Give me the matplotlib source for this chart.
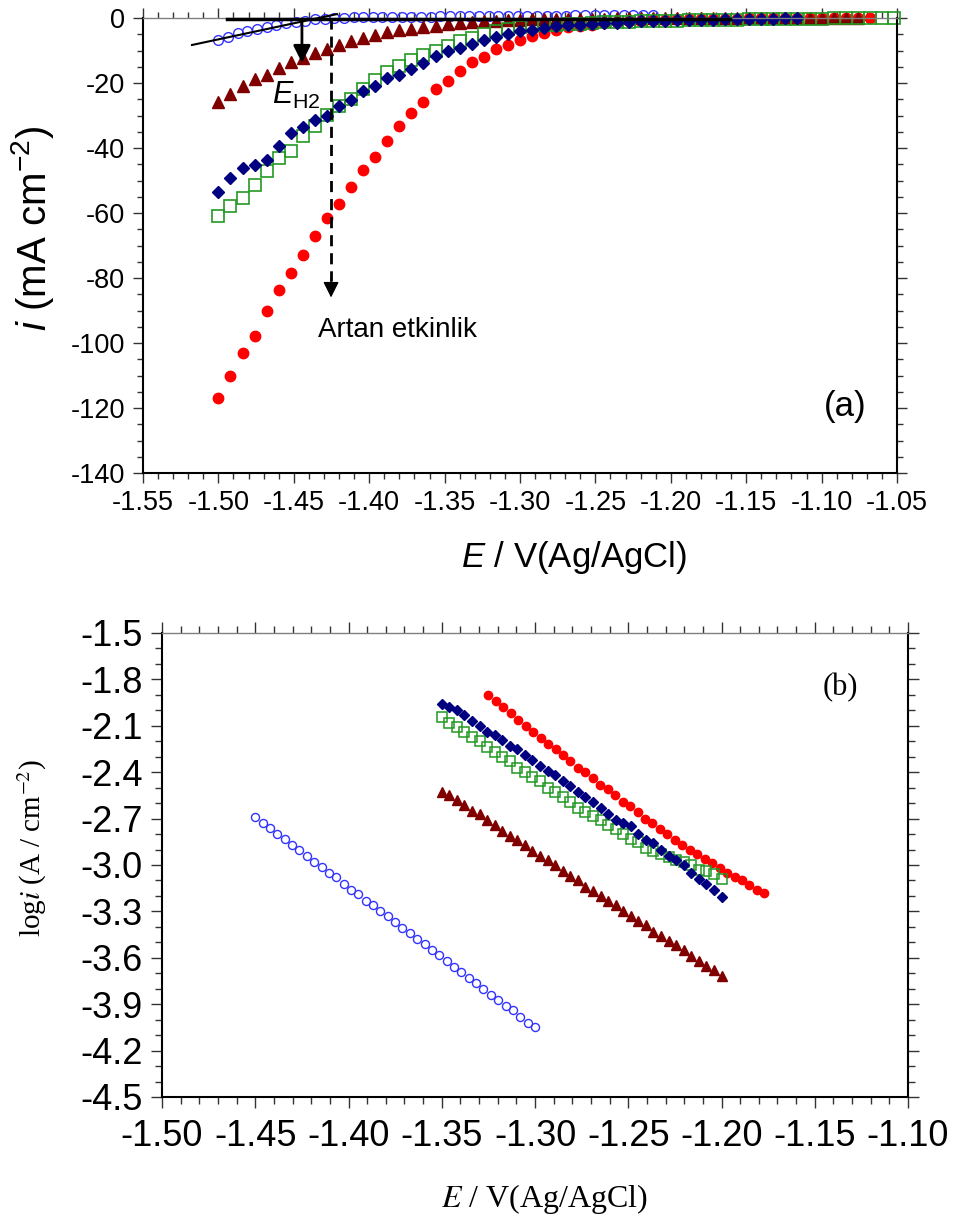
import numpy as np
import matplotlib
matplotlib.use("Agg")
import matplotlib.pyplot as plt
from matplotlib.ticker import MultipleLocator, FormatStrFormatter

plt.rcParams['font.family'] = ['Liberation Sans', 'DejaVu Sans']
plt.rcParams['axes.unicode_minus'] = False
plt.rcParams['mathtext.fontset'] = 'custom'
plt.rcParams['mathtext.rm'] = 'Liberation Sans'
plt.rcParams['mathtext.it'] = 'Liberation Sans:italic'

# ---------------- data, panel (a): i (mA cm-2) vs E ----------------
E0_a = -1.50          # first potential of every sweep
dE_a = 0.008          # potential step of the sweeps
dE_a_blue = 0.0064    # potential step of the open-circle sweep

i_red_a = [-117.0, -110.2, -103.2, -97.8, -90.1, -83.7, -78.4, -73.0, -67.2, -61.4,
           -57.1, -51.9, -46.7, -42.7, -37.9, -33.3, -29.1, -25.8, -21.9, -19.5,
           -16.2, -13.6, -12.0, -9.6, -8.3, -6.9, -5.5, -4.7, -3.6, -2.9,
           -2.6, -2.1, -1.6, -1.3, -1.0, -0.8, -0.6, -0.5, -0.4, -0.3,
           -0.3, -0.2, -0.2, -0.2, -0.1, -0.1, -0.1, -0.1, 0.0, 0.0,
           0.0, 0.0, 0.0, 0.0, 0.0]
i_tri_a = [-25.9, -23.4, -20.8, -18.8, -17.6, -15.4, -13.5, -12.2, -10.9, -9.5,
           -8.3, -7.2, -6.2, -5.2, -4.4, -3.8, -3.3, -2.8, -2.4, -1.9,
           -1.6, -1.2, -1.0, -0.8, -0.6, -0.5, -0.4, -0.4, -0.3, -0.3,
           -0.2, -0.2, -0.2, -0.1, -0.1, -0.1, -0.1, -0.1, 0.0, 0.0,
           0.0, 0.0, 0.0, 0.0, 0.0, 0.0, 0.0, 0.0, 0.0, 0.0,
           0.0, 0.0, 0.0, 0.0]
i_dia_a = [-53.5, -49.3, -46.1, -45.3, -43.6, -39.5, -35.3, -33.6, -31.5, -30.1,
           -27.0, -25.2, -22.4, -20.9, -18.6, -17.4, -15.8, -13.7, -11.7, -10.1,
           -9.3, -8.1, -6.7, -5.9, -5.0, -4.1, -3.6, -3.1, -2.6, -2.3,
           -2.1, -1.8, -1.6, -1.4, -1.2, -1.0, -0.9, -0.8, -0.7, -0.6,
           -0.5, -0.5, -0.4, -0.3, -0.3, -0.2, -0.2, -0.1, -0.1]
i_sq_a = [-60.8, -57.9, -55.3, -51.5, -47.2, -43.2, -41.0, -36.4, -33.3, -29.7,
          -27.1, -25.0, -21.9, -19.0, -16.7, -14.7, -12.9, -11.4, -10.0, -8.6,
          -7.2, -6.0, -5.0, -4.1, -3.4, -2.9, -2.6, -2.3, -2.1, -1.9,
          -1.7, -1.6, -1.3, -1.2, -1.1, -1.0, -0.9, -0.8, -0.8, -0.7,
          -0.6, -0.6, -0.5, -0.5, -0.4, -0.4, -0.3, -0.3, -0.2, -0.2,
          -0.2, -0.1, -0.1, -0.1, 0.0, 0.0, 0.0]
i_blue_a = [-6.8, -5.8, -4.7, -4.0, -3.3, -2.7, -2.0, -1.5, -1.1, -0.9,
            -0.4, -0.2, 0.1, 0.1, 0.3, 0.3, 0.4, 0.3, 0.3, 0.3,
            0.4, 0.4, 0.4, 0.5, 0.5, 0.5, 0.5, 0.6, 0.6, 0.6,
            0.6, 0.6, 0.7, 0.7, 0.7, 0.7, 0.7, 0.8, 0.8, 0.8,
            0.8, 0.8, 0.8, 0.8, 0.8, 0.8]

# ---------------- data, panel (b): log i vs E ----------------
E_range_blue_b = (-1.450, -1.300)
E_range_red_b = (-1.325, -1.177)
E_range_b = (-1.350, -1.200)   # diamonds, squares, triangles

log_blue_b = [-2.69, -2.73, -2.76, -2.80, -2.83, -2.87, -2.90, -2.94, -2.98, -3.01,
              -3.05, -3.08, -3.12, -3.16, -3.19, -3.23, -3.26, -3.30, -3.33, -3.37,
              -3.41, -3.44, -3.48, -3.51, -3.55, -3.58, -3.62, -3.66, -3.69, -3.73,
              -3.76, -3.80, -3.84, -3.87, -3.91, -3.94, -3.98, -4.02, -4.05]
log_red_b = [-1.90, -1.94, -1.98, -2.02, -2.06, -2.10, -2.14, -2.18, -2.22, -2.25,
             -2.29, -2.33, -2.37, -2.40, -2.44, -2.48, -2.51, -2.55, -2.59, -2.62,
             -2.66, -2.70, -2.73, -2.77, -2.80, -2.84, -2.87, -2.90, -2.93, -2.96,
             -2.99, -3.02, -3.05, -3.08, -3.10, -3.13, -3.16, -3.18]
log_dia_b = [-1.96, -1.98, -2.00, -2.03, -2.07, -2.10, -2.14, -2.16, -2.19, -2.23,
             -2.25, -2.29, -2.32, -2.36, -2.39, -2.42, -2.46, -2.49, -2.53, -2.56,
             -2.59, -2.63, -2.67, -2.71, -2.73, -2.75, -2.80, -2.84, -2.86, -2.90,
             -2.94, -2.97, -3.00, -3.05, -3.09, -3.12, -3.16, -3.21]
log_sq_b = [-2.04, -2.08, -2.11, -2.14, -2.17, -2.20, -2.24, -2.27, -2.30, -2.33,
            -2.37, -2.40, -2.43, -2.46, -2.50, -2.53, -2.56, -2.59, -2.63, -2.66,
            -2.68, -2.71, -2.74, -2.77, -2.80, -2.83, -2.85, -2.89, -2.91, -2.93,
            -2.95, -2.97, -2.98, -3.00, -3.03, -3.04, -3.06, -3.09]
log_tri_b = [-2.53, -2.55, -2.58, -2.61, -2.65, -2.67, -2.71, -2.74, -2.78, -2.81,
             -2.84, -2.87, -2.91, -2.94, -2.97, -3.00, -3.04, -3.07, -3.10, -3.14,
             -3.17, -3.20, -3.23, -3.26, -3.30, -3.33, -3.36, -3.39, -3.43, -3.46,
             -3.49, -3.52, -3.55, -3.59, -3.62, -3.65, -3.68, -3.72]

# colours
RED = '#ff0000'
DARKRED = '#800000'
NAVY = '#000080'
GREEN = '#229922'
BLUE = '#3333ff'


def sweep(E0, dE, n):
    return E0 + dE * np.arange(n)


fig = plt.figure(figsize=(9.54, 12.23), dpi=100)

# ======================= panel (a) =======================
ax1 = fig.add_axes([143 / 954, 1 - 473 / 1223, 754 / 954, 455 / 1223])
kw = dict(linestyle='none', clip_on=False)
ax1.plot(sweep(E0_a, dE_a_blue, len(i_blue_a)), i_blue_a, marker='o', ms=7, mfc='none',
         mec=BLUE, mew=1.0, **kw)
ax1.plot(sweep(E0_a, dE_a, len(i_red_a)), i_red_a, marker='o', ms=7.5, color=RED, mec=RED, **kw)
ax1.plot(sweep(E0_a, dE_a, len(i_tri_a)), i_tri_a, marker='^', ms=8.5, color=DARKRED, **kw)
ax1.plot(sweep(E0_a, dE_a, len(i_sq_a)), i_sq_a, marker='s', ms=8, mfc='none', mec=GREEN,
         mew=1.2, **kw)
ax1.plot(sweep(E0_a, dE_a, len(i_dia_a)), i_dia_a, marker='D', ms=5.8, color=NAVY, **kw)

# tangent construction for E_H2
ax1.plot([-1.494, -1.161], [-0.3, -0.3], color='k', lw=2.5, clip_on=False, zorder=5)
ax1.plot([-1.5175, -1.4214], [-8.3, 1.2], color='k', lw=1.5, clip_on=False, zorder=5)
x_eh2 = -1.4446
ax1.annotate('', xy=(x_eh2, -13.8), xytext=(x_eh2, -0.3),
             arrowprops=dict(arrowstyle='-|>', color='k', lw=2, mutation_scale=26,
                             shrinkA=0, shrinkB=0), zorder=6)
x_dash = -1.4253
ax1.plot([x_dash, x_dash], [0, -81], color='k', lw=2, linestyle=(0, (4, 2.5)), zorder=5)
ax1.annotate('', xy=(x_dash, -86), xytext=(x_dash, -80),
             arrowprops=dict(arrowstyle='-|>', color='k', lw=1, mutation_scale=24,
                             shrinkA=0, shrinkB=0), zorder=6)
ax1.text(-1.4645, -26.4, r'$\mathit{E}_{\mathrm{H2}}$', fontsize=22, ha='left', va='baseline',
         math_fontfamily='custom')
ax1.text(-1.381, -96.1, 'Artan etkinlik', fontsize=20, ha='center', va='center')
ax1.text(-1.0845, -119.4, '(a)', fontsize=25, ha='center', va='center')

ax1.set_xlim(-1.55, -1.05)
ax1.set_ylim(-140, 0)
ax1.xaxis.set_major_locator(MultipleLocator(0.05))
ax1.xaxis.set_minor_locator(MultipleLocator(0.01))
ax1.yaxis.set_major_locator(MultipleLocator(20))
ax1.yaxis.set_minor_locator(MultipleLocator(5))
ax1.xaxis.set_major_formatter(FormatStrFormatter('%.2f'))
ax1.yaxis.set_major_formatter(FormatStrFormatter('%d'))
ax1.tick_params(which='both', direction='out', top=True, right=True, color='#333333', width=1)
ax1.tick_params(which='major', length=7, labelsize=19.5)
ax1.tick_params(which='minor', length=4)
ax1.tick_params(axis='x', pad=5)
ax1.tick_params(axis='y', pad=6)
for s in ['left', 'bottom', 'right']:
    ax1.spines[s].set_linewidth(1.5)
ax1.spines['top'].set_color('#808080')
ax1.spines['top'].set_linewidth(1)

fig.text(33 / 954, 1 - 228 / 1223, r'$\mathit{i}$ (mA cm$^{-2}$)', fontsize=29,
         rotation=90, ha='center', va='center', math_fontfamily='custom')
fig.text(574 / 954, 1 - 557 / 1223, r'$\mathit{E}$ / V(Ag/AgCl)', fontsize=25,
         ha='center', va='center', math_fontfamily='custom')

# ======================= panel (b) =======================
ax2 = fig.add_axes([162 / 954, 1 - 1097 / 1223, 746 / 954, 464 / 1223])
ax2.plot(np.linspace(*E_range_blue_b, len(log_blue_b)), log_blue_b, linestyle='none',
         marker='o', ms=5.8, mfc='none', mec=BLUE, mew=1.0)
ax2.plot(np.linspace(*E_range_red_b, len(log_red_b)), log_red_b, linestyle='none',
         marker='o', ms=6, color=RED)
ax2.plot(np.linspace(*E_range_b, len(log_tri_b)), log_tri_b, linestyle='none',
         marker='^', ms=7, color=DARKRED)
ax2.plot(np.linspace(*E_range_b, len(log_sq_b)), log_sq_b, linestyle='none',
         marker='s', ms=6.5, mfc='none', mec=GREEN, mew=1.1)
ax2.plot(np.linspace(*E_range_b, len(log_dia_b)), log_dia_b, linestyle='none',
         marker='D', ms=4.6, color=NAVY)
ax2.text(-1.1365, -1.856, '(b)', fontsize=22, ha='center', va='center',
         family=['Liberation Serif', 'DejaVu Serif'])

ax2.set_xlim(-1.50, -1.10)
ax2.set_ylim(-4.5, -1.5)
ax2.xaxis.set_major_locator(MultipleLocator(0.05))
ax2.xaxis.set_minor_locator(MultipleLocator(0.01))
ax2.yaxis.set_major_locator(MultipleLocator(0.3))
ax2.yaxis.set_minor_locator(MultipleLocator(0.1))
ax2.xaxis.set_major_formatter(FormatStrFormatter('%.2f'))
ax2.yaxis.set_major_formatter(FormatStrFormatter('%.1f'))
ax2.tick_params(which='both', direction='out', top=True, right=True, color='#333333', width=1)
ax2.tick_params(which='major', length=8, labelsize=26)
ax2.tick_params(which='minor', length=5)
ax2.tick_params(axis='x', pad=8)
ax2.tick_params(axis='y', pad=6)
for s in ['left', 'bottom', 'right']:
    ax2.spines[s].set_linewidth(1.5)
ax2.spines['top'].set_color('#808080')
ax2.spines['top'].set_linewidth(1)

fig.text(32 / 954, 1 - 848 / 1223, r'log$\mathit{i}$ (A / cm$^{-2}$)', fontsize=21,
         rotation=90, ha='center', va='center', family=['Liberation Serif', 'DejaVu Serif'],
         math_fontfamily='stix')
fig.text(544 / 954, 1 - 1199 / 1223, r'$\mathit{E}$ / V(Ag/AgCl)', fontsize=23,
         ha='center', va='center', family=['Liberation Serif', 'DejaVu Serif'],
         math_fontfamily='stix')

fig.savefig('out.png', dpi=100)
